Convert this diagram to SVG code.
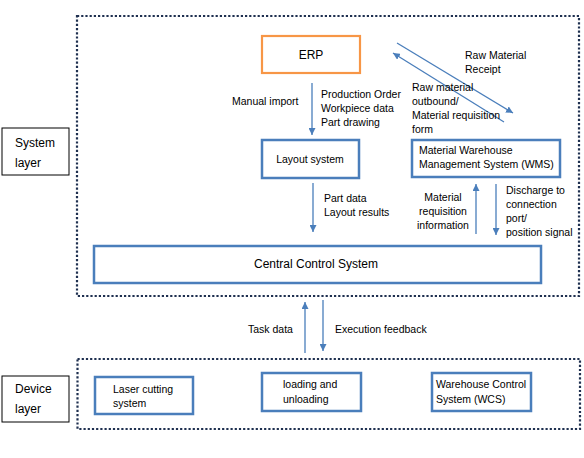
<svg xmlns="http://www.w3.org/2000/svg" width="584" height="458" viewBox="0 0 584 458">
<style>
  text { font-family: "Liberation Sans", Arial, sans-serif; fill: #000; }
  .lbl { font-size: 10.5px; }
  .box { font-size: 10.5px; }
  .big { font-size: 12px; }
  .frame { fill: none; stroke: #1f3050; stroke-width: 2.2; stroke-dasharray: 2.2 2; }
  .node { fill: #fff; stroke: #4a7ebb; stroke-width: 2.5; }
  .erp { fill: #fff; stroke: #f79646; stroke-width: 2.2; }
  .layer { fill: #fff; stroke: #000; stroke-width: 1; }
  .conn { stroke: #4a7ebb; stroke-width: 1.3; fill: none; marker-end: url(#ah); }
</style>
<defs>
  <marker id="ah" viewBox="0 0 10 10" refX="10" refY="5" markerWidth="7" markerHeight="7" markerUnits="userSpaceOnUse" orient="auto">
    <path d="M0,0 L10,5 L0,10 z" fill="#4a7ebb"/>
  </marker>
</defs>
<rect width="584" height="458" fill="#fff"/>

<g id="system-frame"><rect class="frame" x="77" y="16" width="502" height="280"/></g>
<g id="device-frame"><rect class="frame" x="77.5" y="359" width="502.5" height="70"/></g>

<g id="system-layer-label">
  <rect class="layer" x="2" y="128" width="67" height="47"/>
  <text class="big" x="15" y="147">System</text>
  <text class="big" x="15" y="167">layer</text>
</g>
<g id="device-layer-label">
  <rect class="layer" x="2" y="376" width="67" height="46"/>
  <text class="big" x="15" y="393">Device</text>
  <text class="big" x="15" y="413">layer</text>
</g>

<g id="erp">
  <rect class="erp" x="262" y="36" width="98" height="37"/>
  <text class="big" x="311" y="59" text-anchor="middle">ERP</text>
</g>
<g id="layout">
  <rect class="node" x="262" y="140" width="97" height="38"/>
  <text class="box" x="310" y="163" text-anchor="middle">Layout system</text>
</g>
<g id="wms">
  <rect class="node" x="412" y="140" width="148" height="37"/>
  <text class="box" x="419" y="154">Material Warehouse</text>
  <text class="box" x="419" y="168">Management System (WMS)</text>
</g>
<g id="ccs">
  <rect class="node" x="94" y="246" width="447" height="37"/>
  <text class="big" x="316" y="268" text-anchor="middle">Central Control System</text>
</g>
<g id="laser">
  <rect class="node" x="95" y="377" width="98" height="37"/>
  <text class="box" x="113" y="393">Laser cutting</text>
  <text class="box" x="113" y="407">system</text>
</g>
<g id="loading">
  <rect class="node" x="262" y="373" width="99" height="38"/>
  <text class="box" x="283" y="388">loading and</text>
  <text class="box" x="283" y="403">unloading</text>
</g>
<g id="wcs">
  <rect class="node" x="432" y="373" width="99" height="38"/>
  <text class="box" x="436" y="388">Warehouse Control</text>
  <text class="box" x="436" y="403">System (WCS)</text>
</g>

<g id="connectors">
  <line class="conn" x1="312" y1="83" x2="312" y2="135"/>
  <line class="conn" x1="397" y1="43" x2="513" y2="113"/>
  <line class="conn" x1="504" y1="122" x2="393" y2="53"/>
  <line class="conn" x1="313" y1="183" x2="313" y2="232"/>
  <line class="conn" x1="476" y1="234" x2="476" y2="184"/>
  <line class="conn" x1="496" y1="184" x2="496" y2="235"/>
  <line class="conn" x1="305" y1="353" x2="305" y2="302"/>
  <line class="conn" x1="323" y1="300" x2="323" y2="351"/>
</g>

<g id="labels">
  <text class="lbl" x="232" y="105">Manual import</text>
  <text class="lbl" x="321" y="98">Production Order</text>
  <text class="lbl" x="321" y="112">Workpiece data</text>
  <text class="lbl" x="321" y="126">Part drawing</text>
  <text class="lbl" x="465" y="59">Raw Material</text>
  <text class="lbl" x="465" y="73">Receipt</text>
  <text class="lbl" x="412" y="91">Raw material</text>
  <text class="lbl" x="412" y="105">outbound/</text>
  <text class="lbl" x="412" y="119">Material requisition</text>
  <text class="lbl" x="412" y="133">form</text>
  <text class="lbl" x="324" y="202">Part data</text>
  <text class="lbl" x="324" y="216">Layout results</text>
  <text class="lbl" x="443" y="201" text-anchor="middle">Material</text>
  <text class="lbl" x="443" y="215" text-anchor="middle">requisition</text>
  <text class="lbl" x="443" y="229" text-anchor="middle">information</text>
  <text class="lbl" x="506" y="194">Discharge to</text>
  <text class="lbl" x="506" y="208">connection</text>
  <text class="lbl" x="506" y="222">port/</text>
  <text class="lbl" x="506" y="236">position signal</text>
  <text class="lbl" x="248" y="333">Task data</text>
  <text class="lbl" x="335" y="333">Execution feedback</text>
</g>
</svg>
